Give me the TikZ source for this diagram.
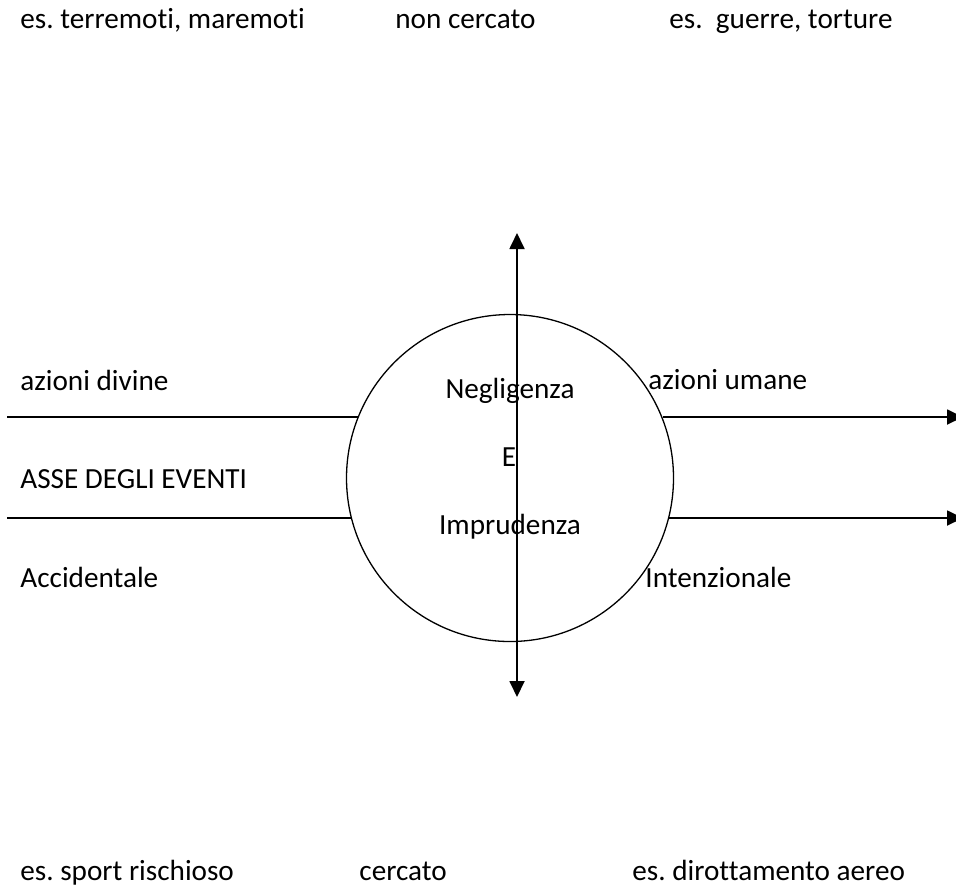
\documentclass[tikz,border=0pt]{standalone}
\usepackage{fontspec}
\setmainfont{Carlito}[Ligatures={NoCommon,NoRare,NoContextual}]
\usetikzlibrary{arrows.meta}
\frenchspacing
\begin{document}
\begin{tikzpicture}[x=0.5pt,y=-0.5pt,
  lbl/.style={anchor=base west,inner sep=0pt,font=\fontsize{14.6}{17}\selectfont},
  clbl/.style={anchor=base,inner sep=0pt,font=\fontsize{14.6}{17}\selectfont},
  axis/.style={line width=0.9pt},
  tip/.style={-{Triangle[length=8pt,width=7.5pt]}},
  ring/.style={circle,draw,line width=0.65pt,minimum size=163.5pt,inner sep=0pt}]
\useasboundingbox (0,0) rectangle (956,890);
% circle
\node[ring] (c) at (510,478) {};
% top row
\node[lbl] (t1) at (20,28) {es. terremoti, maremoti};
\node[lbl] (t2) at (395,28) {non cercato};
\node[lbl] (t3) at (669,28) {es.\ \ guerre, torture};
% left labels
\node[lbl] (l1) at (20,390) {azioni divine};
\node[lbl] (l2) at (20,488) {ASSE DEGLI EVENTI};
\node[lbl] (l3) at (20,587) {Accidentale};
% right labels
\node[lbl] (r1) at (648,389) {azioni umane};
\node[lbl] (r2) at (645,587) {Intenzionale};
% bottom row
\node[lbl] (b1) at (20,880) {es. sport rischioso};
\node[lbl] (b2) at (359,880) {cercato};
\node[lbl] (b3) at (632,880) {es. dirottamento aereo};
% horizontal lines
\coordinate (L1) at (7,417);
\coordinate (L2) at (7,518);
\coordinate (R1) at (963,417);
\coordinate (R2) at (963,518);
\draw[axis] (L1) -- (L1 -| c.158.1);
\draw[axis] (L2) -- (L2 -| c.194.16);
\draw[axis,tip] (R1 -| c.21.9) -- (R1);
\draw[axis,tip] (R2 -| c.-14.16) -- (R2);
% vertical axis
\coordinate (vt) at (517,233);
\coordinate (vb) at (517,697);
\draw[axis,{Triangle[length=8pt,width=7.5pt]}-{Triangle[length=8pt,width=7.5pt]}] (vb) -- (vt);
% inner text
\node[clbl] (n1) at (510,398) {Negligenza};
\node[clbl] (n2) at (509,466) {E};
\node[clbl] (n3) at (510,534) {Imprudenza};
\end{tikzpicture}
\end{document}
